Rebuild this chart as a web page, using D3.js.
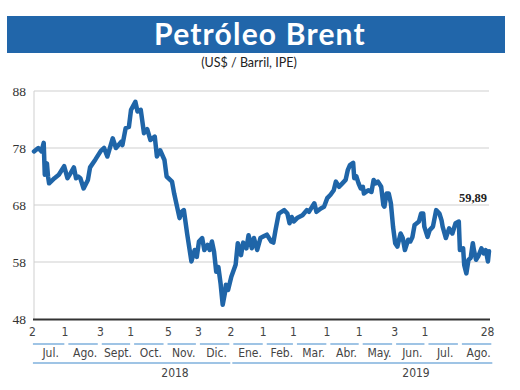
<!DOCTYPE html>
<html><head><meta charset="utf-8">
<script src="https://cdn.jsdelivr.net/npm/d3@7"></script>
<style>body{margin:0;background:#fff}</style>
</head><body>
<svg id="c" width="520" height="390"></svg>
<script>
const dates = ["2018-07-02","2018-07-06","2018-07-09","2018-07-11","2018-07-12","2018-07-14","2018-07-15","2018-07-16","2018-07-21","2018-07-25","2018-07-30",
"2018-08-02","2018-08-05","2018-08-08","2018-08-10","2018-08-12","2018-08-14","2018-08-17","2018-08-21","2018-08-23","2018-08-28",
"2018-09-02","2018-09-05","2018-09-08","2018-09-13","2018-09-16","2018-09-21","2018-09-22","2018-09-25","2018-09-28","2018-09-30",
"2018-10-04","2018-10-06","2018-10-09","2018-10-12","2018-10-15","2018-10-18","2018-10-22","2018-10-24","2018-10-27","2018-10-31",
"2018-11-02","2018-11-07","2018-11-09","2018-11-14","2018-11-16","2018-11-18","2018-11-21","2018-11-25","2018-11-28","2018-11-30",
"2018-12-02","2018-12-05","2018-12-07","2018-12-10","2018-12-12","2018-12-14","2018-12-16","2018-12-18","2018-12-20","2018-12-22","2018-12-24","2018-12-26","2018-12-27","2018-12-29",
"2019-01-01","2019-01-05","2019-01-07","2019-01-10","2019-01-12","2019-01-15","2019-01-17","2019-01-20","2019-01-22","2019-01-25","2019-01-28","2019-01-31",
"2019-02-03","2019-02-07","2019-02-09","2019-02-11","2019-02-14","2019-02-19","2019-02-22","2019-02-24","2019-02-26","2019-02-28",
"2019-03-03","2019-03-08","2019-03-12","2019-03-14","2019-03-16","2019-03-19","2019-03-21","2019-03-25","2019-03-28","2019-03-31",
"2019-04-03","2019-04-06","2019-04-08","2019-04-11","2019-04-14","2019-04-17","2019-04-19","2019-04-21","2019-04-24","2019-04-25","2019-04-27","2019-04-29",
"2019-05-01","2019-05-03","2019-05-04","2019-05-08","2019-05-11","2019-05-13","2019-05-15","2019-05-17","2019-05-20","2019-05-22","2019-05-23","2019-05-25","2019-05-27","2019-05-29","2019-05-31",
"2019-06-02","2019-06-04","2019-06-07","2019-06-09","2019-06-11","2019-06-14","2019-06-16","2019-06-18","2019-06-20","2019-06-24","2019-06-26","2019-06-28","2019-06-29",
"2019-07-02","2019-07-04","2019-07-07","2019-07-10","2019-07-13","2019-07-15","2019-07-16","2019-07-19","2019-07-22","2019-07-25","2019-07-28","2019-07-31",
"2019-08-01","2019-08-04","2019-08-05","2019-08-07","2019-08-09","2019-08-11","2019-08-13","2019-08-14","2019-08-16","2019-08-18","2019-08-21","2019-08-23","2019-08-25","2019-08-27","2019-08-28"];
const values = [77.4,78.0,77.4,78.9,73.3,75.3,73.0,71.8,72.7,73.3,74.8,
72.7,73.6,74.6,72.7,73.0,72.7,70.9,72.4,74.6,76.0,
77.5,78.0,76.5,79.7,78.0,79.1,78.5,81.5,81.7,84.7,
86.1,84.4,84.7,80.6,81.3,79.4,80.0,76.5,77.6,75.9,
73.0,72.1,70.0,65.7,66.8,67.1,63.0,58.1,60.1,58.9,
61.6,62.2,60.1,61.0,60.1,61.6,59.8,56.3,57.1,54.3,50.5,52.5,54.0,53.1,
55.4,57.5,61.3,59.2,61.4,60.4,62.7,60.4,62.2,60.1,62.2,62.5,
62.8,61.6,61.4,63.6,66.5,67.1,66.5,64.8,65.9,65.1,
65.7,66.2,67.1,66.8,67.4,68.3,66.8,67.4,67.7,69.2,
69.8,70.6,72.1,71.2,71.8,72.4,74.1,75.0,75.4,72.7,73.0,71.8,
70.9,71.2,70.0,70.6,70.3,72.4,71.8,72.1,71.2,68.0,67.7,70.0,70.0,68.3,64.2,
61.3,60.7,63.0,62.2,60.1,61.9,61.6,62.4,64.5,65.1,66.5,66.5,64.2,
62.4,63.6,64.2,67.1,66.5,65.3,64.2,62.2,63.9,63.0,64.8,65.1,
60.1,60.4,57.5,56.0,58.4,58.7,61.3,60.1,58.4,59.0,60.4,59.5,60.1,58.1,59.89];
const yTicks = [48,58,68,78,88];
const tickDates = ["2018-07-02","2018-08-01","2018-09-03","2018-10-01","2018-11-05","2018-12-03","2019-01-02","2019-02-01","2019-03-01","2019-04-01","2019-05-01","2019-06-03","2019-07-01","2019-08-28"];
const tickLabels = ["2","1","3","1","5","3","2","1","1","1","1","3","1","28"];
const months = ["Jul.","Ago.","Sept.","Oct.","Nov.","Dic.","Ene.","Feb.","Mar.","Abr.","May.","Jun.","Jul.","Ago."];
const monthStarts = ["2018-07-01","2018-08-01","2018-09-01","2018-10-01","2018-11-01","2018-12-01","2019-01-01","2019-02-01","2019-03-01","2019-04-01","2019-05-01","2019-06-01","2019-07-01","2019-08-01","2019-09-01"];
const years = ["2018","2019"];
const yearStarts = ["2018-07-01","2019-01-01","2019-09-01"];
const title = "Petróleo Brent";
const subtitle = "(US$ / Barril, IPE)";
const lastLabel = "59,89";

const parse = d3.timeParse("%Y-%m-%d");
const svg = d3.select("#c");
const blue = "#1f65a8";
const condensed = "'Liberation Sans Narrow','DejaVu Sans Condensed',Lato,sans-serif";

const x = d3.scaleTime().domain([parse(dates[0]), parse(dates[dates.length-1])]).range([34, 489]);
const y = d3.scaleLinear().domain([48, 88]).range([319, 91]);

// header
svg.append("rect").attr("x",7).attr("y",16).attr("width",498).attr("height",37).attr("fill","#2166aa");
svg.append("text").attr("x",260).attr("y",45).attr("text-anchor","middle")
  .attr("fill","#fff").attr("font-family","Lato,'Open Sans',sans-serif").attr("font-weight","bold")
  .attr("font-size",30).attr("letter-spacing",1.2).text(title);
svg.append("text").attr("x",249).attr("y",67).attr("text-anchor","middle")
  .attr("fill","#222").attr("font-family","Lato,sans-serif").attr("font-size",12.5).text(subtitle);

// grid
svg.append("g").selectAll("line").data(yTicks.slice(1)).join("line")
  .attr("x1",34).attr("x2",489).attr("y1",d=>y(d)).attr("y2",d=>y(d))
  .attr("stroke","#cfcfcf").attr("stroke-width",1);
svg.append("line").attr("x1",34).attr("x2",34).attr("y1",y(88)).attr("y2",y(48)).attr("stroke","#cfcfcf");

// y labels
const yAxis = d3.axisLeft(y).tickValues(yTicks).tickSize(0).tickPadding(8);
const gy = svg.append("g").attr("transform","translate(34,0)").call(yAxis);
gy.select(".domain").remove();
gy.selectAll("text").attr("font-family","'Liberation Serif',serif").attr("font-size",13.5).attr("fill","#333");

// line
const line = d3.line().x((d,i)=>x(parse(dates[i]))).y(d=>y(d)).curve(d3.curveLinear);
svg.append("path").datum(values).attr("d",line).attr("fill","none")
  .attr("stroke",blue).attr("stroke-width",4.5).attr("stroke-linejoin","round").attr("stroke-linecap","round");

// bottom axis line
svg.append("line").attr("x1",33).attr("x2",490).attr("y1",319.5).attr("y2",319.5).attr("stroke","#333").attr("stroke-width",2);

// last label
svg.append("text").attr("x",487).attr("y",202).attr("text-anchor","end")
  .attr("font-family","'Liberation Serif',serif").attr("font-weight","bold").attr("font-size",12.5).attr("fill","#222").text(lastLabel);

// tick numbers
const xAxis = d3.axisBottom(x).tickValues(tickDates.map(parse)).tickSize(0).tickPadding(0)
  .tickFormat((d,i)=>tickLabels[i]);
const gx = svg.append("g").attr("transform","translate(-2,327)").call(xAxis);
gx.select(".domain").remove();
gx.selectAll("text").attr("font-family",condensed).attr("font-size",12).attr("fill","#444");

// month segments + labels
const segs = months.map((m,i)=>{
  const a = x(parse(monthStarts[i])) + (i===0 ? 0 : 2);
  const b = x(parse(monthStarts[i+1])) - 2;
  return {m, a, b};
});
svg.append("g").selectAll("line").data(segs).join("line")
  .attr("x1",d=>d.a).attr("x2",d=>d.b).attr("y1",344).attr("y2",344)
  .attr("stroke","#7fb0dd").attr("stroke-width",1.5);
svg.append("g").selectAll("text").data(segs).join("text")
  .attr("x",d=>(d.a+d.b)/2+2).attr("y",357).attr("text-anchor","middle")
  .attr("font-family",condensed).attr("font-size",12).attr("fill","#444").text(d=>d.m);

// year lines + labels
const yearLabelX = [175, 416];
years.forEach((yr,i)=>{
  const a = x(parse(yearStarts[i])) + (i===0 ? 0 : 1);
  const b = x(parse(yearStarts[i+1])) - 1;
  svg.append("line").attr("x1",a).attr("x2",b).attr("y1",363).attr("y2",363)
    .attr("stroke","#7fb0dd").attr("stroke-width",1.5);
  svg.append("text").attr("x",yearLabelX[i]).attr("y",377).attr("text-anchor","middle")
    .attr("font-family",condensed).attr("font-size",12).attr("fill","#444").text(yr);
});
</script>
</body></html>
